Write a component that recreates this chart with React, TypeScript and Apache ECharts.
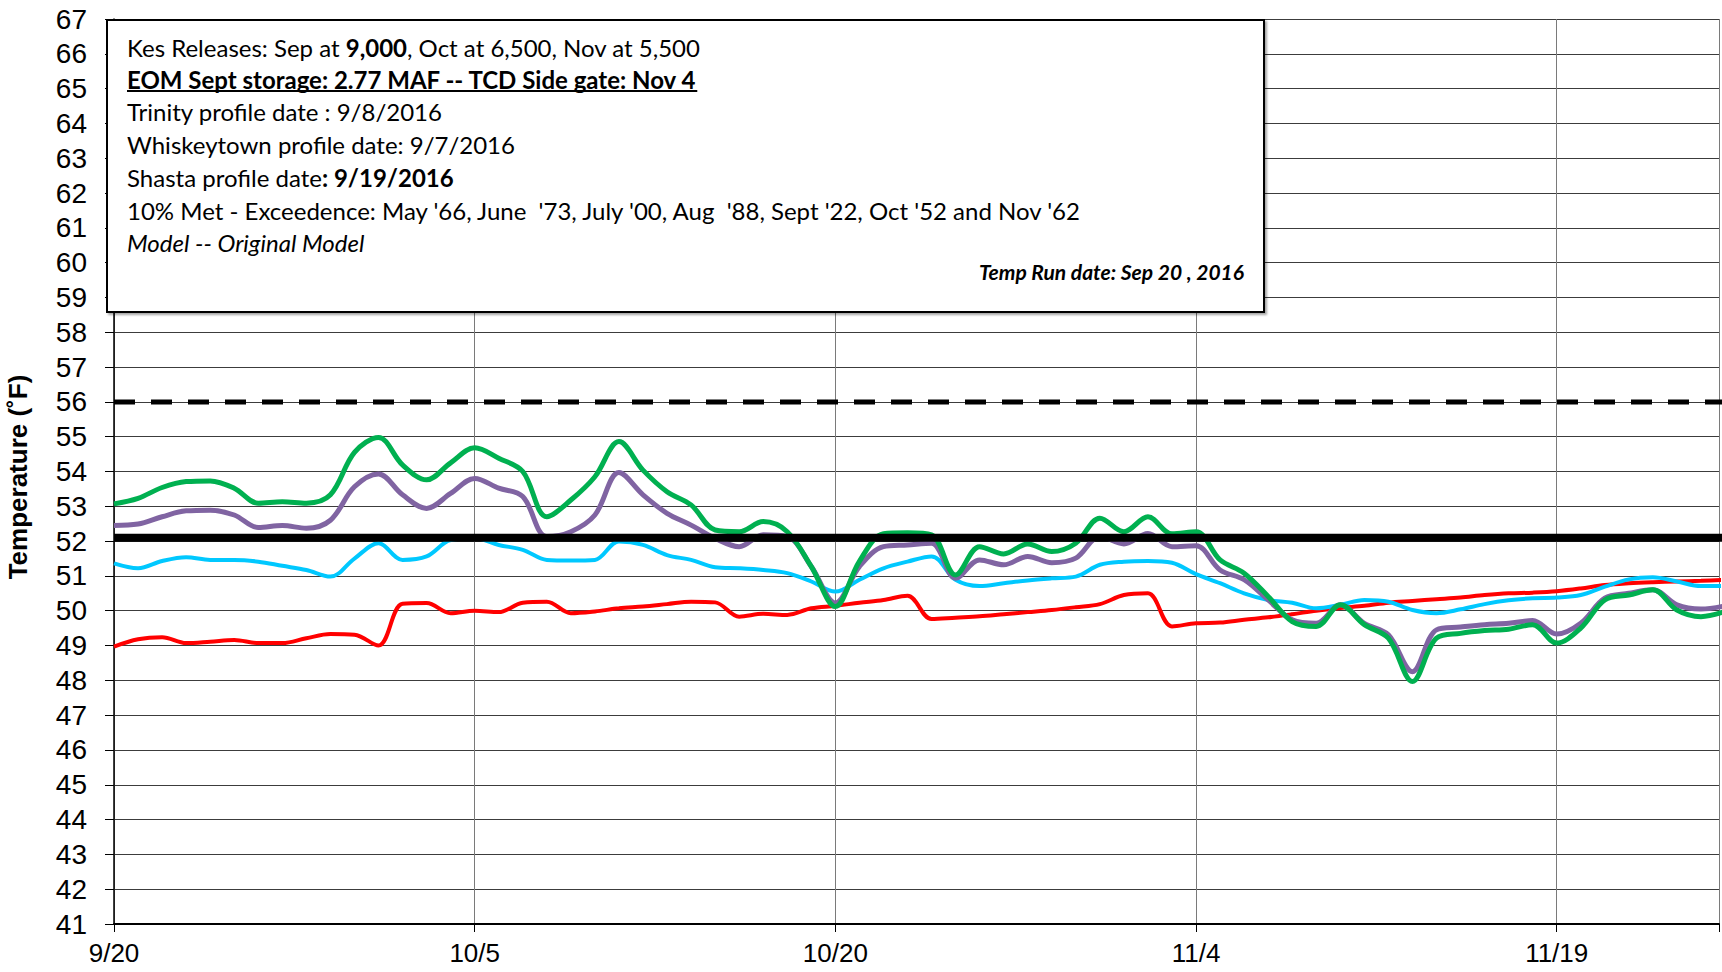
import React, { useEffect, useRef } from "react";
import * as echarts from "echarts";

// Tick labels for the x axis (every 15 days starting 9/20)
const xTickLabels = ["9/20", "10/5", "10/20", "11/4", "11/19"];

// Daily temperatures (°F), day 0 = 9/20
const greenSeries = [
  53.07, 53.23, 53.54, 53.71, 53.73, 53.52, 53.09, 53.13, 53.09, 53.33,
  54.55, 54.98, 54.19, 53.76, 54.25, 54.68, 54.38, 54.0, 52.7, 53.18,
  53.85, 54.86, 54.04, 53.42, 53.04, 52.32, 52.27, 52.56, 52.27, 51.27,
  50.12, 51.42, 52.21, 52.24, 52.18, 51.03, 51.84, 51.63, 51.92, 51.7,
  51.94, 52.66, 52.27, 52.7, 52.21, 52.27, 51.46, 51.08, 50.41, 49.69,
  49.55, 50.17, 49.6, 49.21, 47.97, 49.21, 49.35, 49.43, 49.47, 49.6,
  49.07, 49.5, 50.31, 50.45, 50.6, 50.02, 49.83, 49.98,
];
const purpleSeries = [
  52.45, 52.49, 52.7, 52.87, 52.89, 52.75, 52.39, 52.45, 52.37, 52.6,
  53.56, 53.93, 53.33, 52.94, 53.37, 53.8, 53.52, 53.28, 52.13, 52.27,
  52.75, 53.97, 53.33, 52.8, 52.46, 52.08, 51.84, 52.18, 52.13, 51.27,
  50.22, 51.27, 51.84, 51.89, 51.94, 50.93, 51.46, 51.32, 51.56, 51.38,
  51.51, 52.13, 51.92, 52.22, 51.84, 51.87, 51.17, 50.89, 50.31, 49.74,
  49.64, 50.17, 49.64, 49.31, 48.25, 49.45, 49.53, 49.6, 49.64, 49.72,
  49.33, 49.64, 50.36, 50.5, 50.6, 50.17, 50.05, 50.14,
];
const cyanSeries = [
  51.36, 51.22, 51.43, 51.54, 51.46, 51.46, 51.41, 51.29, 51.17, 50.98,
  51.5, 51.94, 51.46, 51.56, 52.03, 52.08, 51.89, 51.75, 51.46, 51.44,
  51.46, 51.99, 51.89, 51.6, 51.46, 51.25, 51.22, 51.17, 51.08, 50.84,
  50.55, 50.89, 51.22, 51.41, 51.56, 50.89, 50.71, 50.79, 50.87, 50.93,
  50.98, 51.32, 51.41, 51.43, 51.38, 51.05, 50.79, 50.5, 50.31, 50.23,
  50.07, 50.17, 50.31, 50.26, 50.02, 49.93, 50.04, 50.19, 50.3, 50.36,
  50.38, 50.45, 50.69, 50.9, 50.96, 50.84, 50.71, 50.71,
];
const redSeries = [
  48.97, 49.18, 49.24, 49.07, 49.11, 49.16, 49.07, 49.07, 49.21, 49.33,
  49.31, 49.0, 50.2, 50.22, 49.93, 50.0, 49.96, 50.23, 50.26, 49.93,
  49.98, 50.07, 50.12, 50.19, 50.26, 50.24, 49.83, 49.91, 49.88, 50.07,
  50.14, 50.23, 50.31, 50.43, 49.76, 49.8, 49.84, 49.9, 49.96, 50.02,
  50.1, 50.19, 50.45, 50.5, 49.55, 49.64, 49.66, 49.74, 49.81, 49.9,
  50.0, 50.08, 50.14, 50.23, 50.28, 50.33, 50.38, 50.45, 50.5, 50.52,
  50.56, 50.64, 50.74, 50.79, 50.82, 50.84, 50.86, 50.89,
];

// Reference levels
const solidLevel = [52.1, 52.1];
const dashedLevel = [56, 56];
const levelDays = [0, 67];

const boxLines = {
  line1: ["Kes Releases: Sep at ", "9,000", ", Oct at 6,500, Nov at 5,500"],
  line2: "EOM Sept storage: 2.77 MAF -- TCD Side gate: Nov 4",
  line3: "Trinity profile date : 9/8/2016",
  line4: "Whiskeytown profile date: 9/7/2016",
  line5: ["Shasta profile date", ": 9/19/2016"],
  line6: "10% Met - Exceedence: May '66, June  '73, July '00, Aug  '88, Sept '22, Oct '52 and Nov '62",
  line7: "Model -- Original Model",
  runDate: "Temp Run date: Sep 20 , 2016",
};

const BOX_FONT = "Lato";
const BOX_SIZE = 24;

export default function App() {
  const ref = useRef<HTMLDivElement>(null);
  useEffect(() => {
    if (!ref.current) return;
    const chart = echarts.init(ref.current, undefined, { renderer: "svg" });

    const ctx = document.createElement("canvas").getContext("2d");
    let ulWidth = 573;
    if (ctx) {
      ctx.font = `bold ${BOX_SIZE}px ${BOX_FONT}`;
      ulWidth = ctx.measureText(boxLines.line2).width;
    }

    const pair = (arr: number[]) => arr.map((v, i) => [i, v]);
    const levelPair = (arr: number[]) => arr.map((v, i) => [levelDays[i], v]);

    const rich = {
      n: { fontFamily: BOX_FONT, fontSize: BOX_SIZE, fill: "#000" },
      b: { fontFamily: BOX_FONT, fontSize: BOX_SIZE, fontWeight: "bold", fill: "#000" },
    };
    const textX = 127;
    const lineY = [47, 79, 111, 144, 177, 210, 242];

    const mkLine = (y: number, text: string, extra: any = {}) => ({
      type: "text",
      x: textX,
      y,
      z: 101,
      style: {
        text,
        fontFamily: BOX_FONT,
        fontSize: BOX_SIZE,
        fill: "#000",
        verticalAlign: "middle",
        textAlign: "left",
        ...extra,
      },
    });

    const option: any = {
      animation: false,
      backgroundColor: "#fff",
      grid: { left: 114, right: 0, top: 19, bottom: 48, containLabel: false },
      xAxis: {
        type: "value",
        min: 0,
        max: 66.75,
        interval: 15,
        axisLine: { show: true, lineStyle: { color: "#000", width: 2 } },
        axisTick: { show: true, inside: false, length: 8, lineStyle: { color: "#000", width: 1 } },
        axisLabel: {
          margin: 16,
          fontSize: 26,
          fontFamily: "Liberation Sans, Arial, sans-serif",
          color: "#000",
          formatter: (v: number) => (v % 15 === 0 ? xTickLabels[v / 15] ?? "" : ""),
        },
        splitLine: { show: true, lineStyle: { color: "#7a7a7a", width: 1 } },
      },
      yAxis: {
        type: "value",
        min: 41,
        max: 67,
        interval: 1,
        axisLine: { show: true, lineStyle: { color: "#000", width: 1.5 } },
        axisTick: { show: true, inside: false, length: 9, lineStyle: { color: "#000", width: 1 } },
        axisLabel: {
          margin: 27,
          fontSize: 28,
          fontFamily: "Liberation Sans, Arial, sans-serif",
          color: "#000",
        },
        splitLine: { show: true, lineStyle: { color: "#3c3c3c", width: 1 } },
      },
      series: [
        {
          type: "line",
          data: levelPair(dashedLevel),
          showSymbol: false,
          lineStyle: { color: "#000", width: 5, type: [21, 16] },
          z: 3,
          silent: true,
        },
        {
          type: "line",
          data: pair(redSeries),
          smooth: 0.35,
          showSymbol: false,
          lineStyle: { color: "#FF0000", width: 4 },
          z: 3,
        },
        {
          type: "line",
          data: pair(cyanSeries),
          smooth: 0.35,
          showSymbol: false,
          lineStyle: { color: "#00C8FF", width: 4 },
          z: 4,
        },
        {
          type: "line",
          data: pair(purpleSeries),
          smooth: 0.35,
          showSymbol: false,
          lineStyle: { color: "#8064A2", width: 5 },
          z: 5,
        },
        {
          type: "line",
          data: pair(greenSeries),
          smooth: 0.35,
          showSymbol: false,
          lineStyle: { color: "#00B050", width: 5 },
          z: 6,
        },
        {
          type: "line",
          data: levelPair(solidLevel),
          showSymbol: false,
          lineStyle: { color: "#000", width: 8 },
          z: 7,
          silent: true,
        },
      ],
      graphic: [
        {
          type: "text",
          x: 18,
          y: 477,
          rotation: Math.PI / 2,
          style: {
            text: "Temperature (˚F)",
            fontFamily: "Liberation Sans, Arial, sans-serif",
            fontWeight: "bold",
            fontSize: 26,
            fill: "#000",
            textAlign: "center",
            verticalAlign: "middle",
          },
        },
        {
          type: "rect",
          z: 100,
          shape: { x: 107, y: 20, width: 1157, height: 292 },
          style: {
            fill: "#fff",
            stroke: "#000",
            lineWidth: 2,
            shadowBlur: 2,
            shadowOffsetX: 2,
            shadowOffsetY: 2,
            shadowColor: "rgba(0,0,0,0.35)",
          },
        },
        mkLine(lineY[0], `{n|${boxLines.line1[0]}}{b|${boxLines.line1[1]}}{n|${boxLines.line1[2]}}`, { rich }),
        mkLine(lineY[1], boxLines.line2, { fontWeight: "bold" }),
        {
          type: "line",
          z: 101,
          shape: { x1: textX, y1: lineY[1] + 12, x2: textX + ulWidth, y2: lineY[1] + 12 },
          style: { stroke: "#000", lineWidth: 2 },
        },
        mkLine(lineY[2], boxLines.line3),
        mkLine(lineY[3], boxLines.line4),
        mkLine(lineY[4], `{n|${boxLines.line5[0]}}{b|${boxLines.line5[1]}}`, { rich }),
        mkLine(lineY[5], boxLines.line6),
        mkLine(lineY[6], boxLines.line7, { fontStyle: "italic" }),
        {
          type: "text",
          x: 1244,
          y: 271,
          z: 101,
          style: {
            text: boxLines.runDate,
            fontFamily: BOX_FONT,
            fontSize: 21,
            fontWeight: "bold",
            fontStyle: "italic",
            fill: "#000",
            textAlign: "right",
            verticalAlign: "middle",
          },
        },
      ],
    };

    chart.setOption(option);
    return () => chart.dispose();
  }, []);

  return (
    <div
      ref={ref}
      style={{ position: "fixed", left: 0, top: 0, width: 1722, height: 972, background: "#fff" }}
    />
  );
}
